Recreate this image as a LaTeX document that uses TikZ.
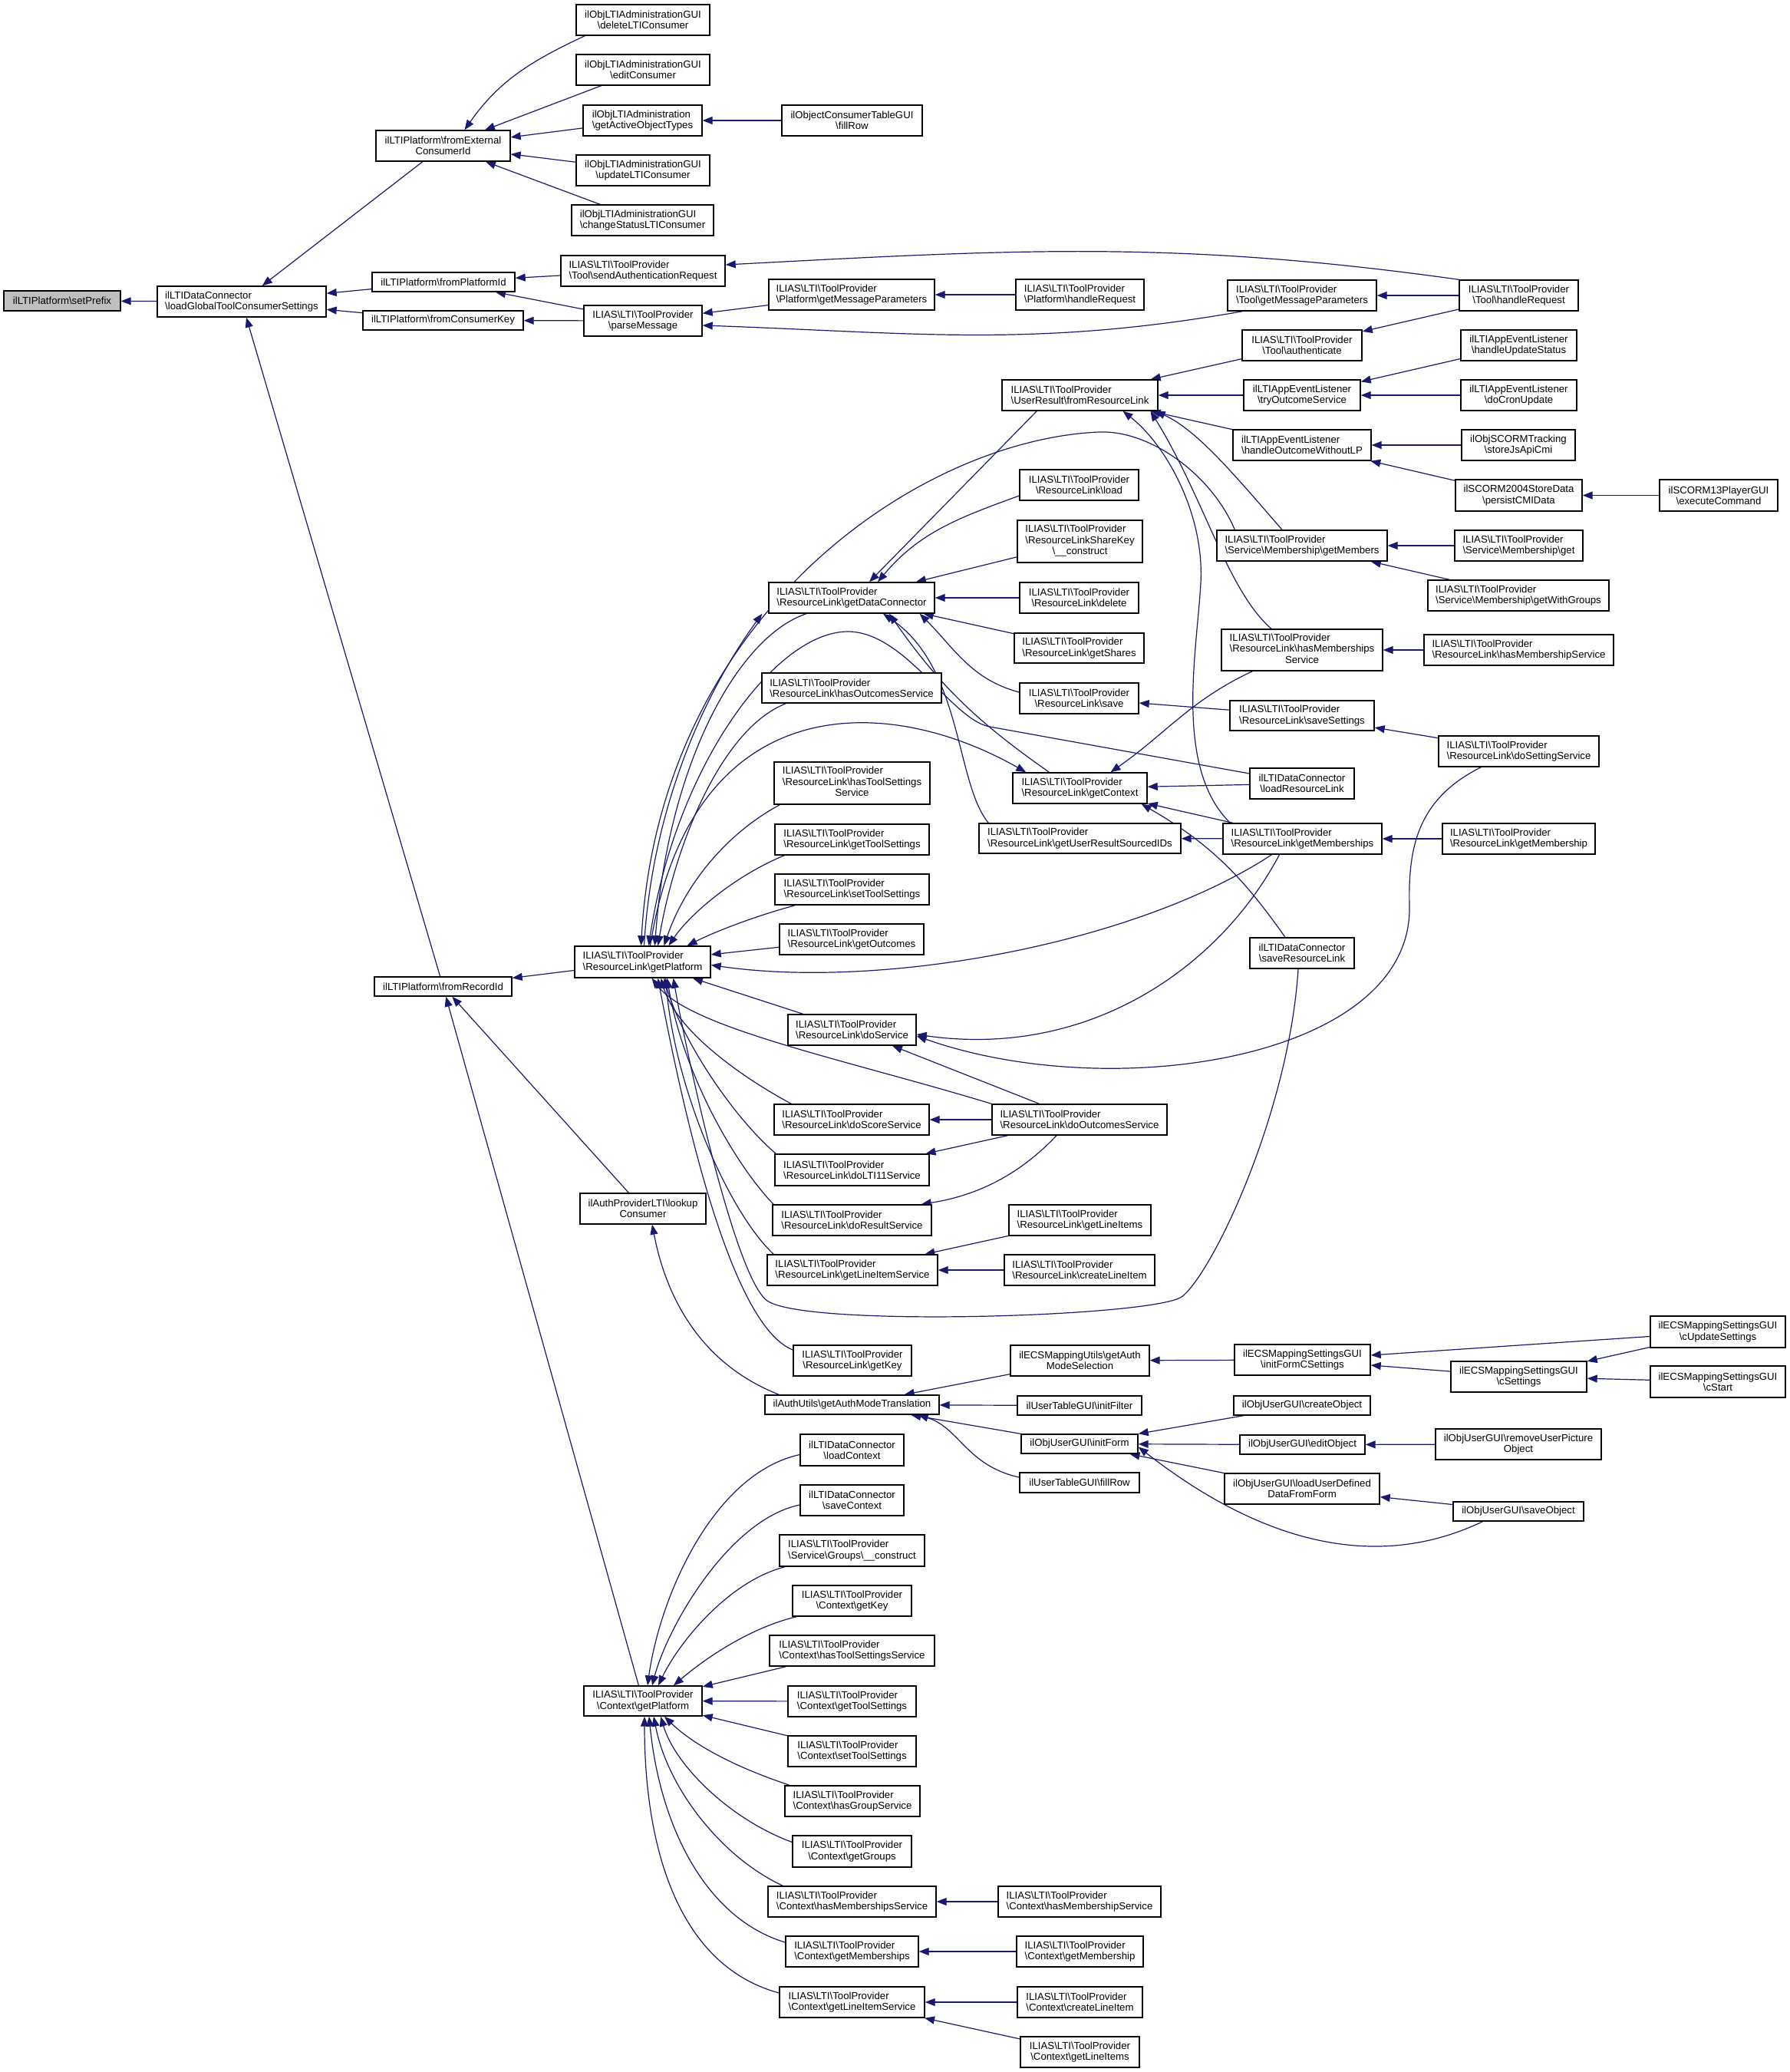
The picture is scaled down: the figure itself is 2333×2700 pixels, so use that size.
\documentclass[tikz,border=0pt]{standalone}
\usepackage{fontspec}
\setmainfont{Liberation Sans}
\usetikzlibrary{arrows.meta}
\definecolor{navyc}{RGB}{25,25,112}
\newcommand\bsl{\textbackslash}
\newcommand\TP{ILIAS\textbackslash LTI\textbackslash ToolProvider}
\newcommand\threel[3]{\begin{tabular}{@{}l@{}}#1\\#2\\\multicolumn{1}{@{}c@{}}{#3}\end{tabular}}
\newcommand{\mynode}[7]{\node[box,#6,minimum width={(#4-#2)*0.5pt},minimum height={(#5-#3)*0.5pt}] (#1) at ({(#2+#4)/2},{-(#3+#5)/2}) {#7};}
\pgfdeclarelayer{back}
\pgfdeclarelayer{bg}
\pgfsetlayers{back,bg,main}
\tikzset{
  box/.style={draw=black,line width=0.7pt,inner sep=0pt,fill=white,font=\fontsize{6.6}{7.2}\selectfont},
  edg/.style={draw=navyc,line width=0.6pt,-{Triangle[length=6.5pt,width=5pt,fill=navyc]}}
}
\begin{document}
\begin{tikzpicture}[x=0.5pt,y=0.5pt]
\begin{pgfonlayer}{back}
\fill[white] (0,0) rectangle (2333,-2700);
\end{pgfonlayer}
\useasboundingbox (0,0) rectangle (2333,-2700);
\mynode{setPrefix}{5}{379}{157}{405}{fill=gray!50}{ilLTIPlatform\bsl setPrefix}
\mynode{loadGlobal}{205}{373}{425}{413}{align=left}{ilLTIDataConnector\\\bsl loadGlobalToolConsumerSettings}
\mynode{fromExt}{490}{170}{665}{210}{align=center}{ilLTIPlatform\bsl fromExternal\\ConsumerId}
\mynode{delLTI}{751}{6}{925}{46}{align=center}{ilObjLTIAdministrationGUI\\\bsl deleteLTIConsumer}
\mynode{editC}{751}{71}{925}{111}{align=center}{ilObjLTIAdministrationGUI\\\bsl editConsumer}
\mynode{getAOT}{760}{137}{915}{177}{align=left}{ilObjLTIAdministration\\\bsl getActiveObjectTypes}
\mynode{updLTI}{751}{202}{925}{242}{align=center}{ilObjLTIAdministrationGUI\\\bsl updateLTIConsumer}
\mynode{chgLTI}{745}{267}{930}{307}{align=left}{ilObjLTIAdministrationGUI\\\bsl changeStatusLTIConsumer}
\mynode{ocFill}{1019}{137}{1202}{177}{align=center}{ilObjectConsumerTableGUI\\\bsl fillRow}
\mynode{fromPID}{485}{355}{671}{380}{}{ilLTIPlatform\bsl fromPlatformId}
\mynode{fromCK}{473}{405}{682}{430}{}{ilLTIPlatform\bsl fromConsumerKey}
\mynode{sendAuth}{731}{333}{945}{373}{align=left}{\TP\\\bsl Tool\bsl sendAuthenticationRequest}
\mynode{parseMsg}{761}{398}{915}{438}{align=center}{\TP\\\bsl parseMessage}
\mynode{pGMP}{1002}{364}{1218}{404}{align=left}{\TP\\\bsl Platform\bsl getMessageParameters}
\mynode{pHR}{1324}{364}{1491}{404}{align=left}{\TP\\\bsl Platform\bsl handleRequest}
\mynode{tGMP}{1600}{365}{1794}{405}{align=left}{\TP\\\bsl Tool\bsl getMessageParameters}
\mynode{tHR}{1902}{365}{2057}{405}{align=center}{\TP\\\bsl Tool\bsl handleRequest}
\mynode{tAuth}{1619}{430}{1775}{470}{align=center}{\TP\\\bsl Tool\bsl authenticate}
\mynode{hUS}{1904}{430}{2055}{470}{align=center}{ilLTIAppEventListener\\\bsl handleUpdateStatus}
\mynode{tOS}{1621}{495}{1773}{535}{align=center}{ilLTIAppEventListener\\\bsl tryOutcomeService}
\mynode{dCU}{1904}{495}{2055}{535}{align=center}{ilLTIAppEventListener\\\bsl doCronUpdate}
\mynode{hOWLP}{1607}{560}{1787}{600}{align=left}{ilLTIAppEventListener\\\bsl handleOutcomeWithoutLP}
\mynode{sJAC}{1905}{560}{2053}{600}{align=center}{ilObjSCORMTracking\\\bsl storeJsApiCmi}
\mynode{pCMI}{1897}{625}{2062}{666}{align=center}{ilSCORM2004StoreData\\\bsl persistCMIData}
\mynode{exC}{2163}{625}{2317}{666}{align=center}{ilSCORM13PlayerGUI\\\bsl executeCommand}
\mynode{getMem}{1586}{691}{1808}{731}{align=left}{\TP\\\bsl Service\bsl Membership\bsl getMembers}
\mynode{memGet}{1896}{691}{2063}{731}{align=left}{\TP\\\bsl Service\bsl Membership\bsl get}
\mynode{memGWG}{1861}{756}{2097}{796}{align=left}{\TP\\\bsl Service\bsl Membership\bsl getWithGroups}
\mynode{rlHMsS}{1592}{820}{1802}{874}{}{\threel{\TP}{\bsl ResourceLink\bsl hasMemberships}{Service}}
\mynode{rlHMS}{1856}{827}{2103}{867}{align=left}{\TP\\\bsl ResourceLink\bsl hasMembershipService}
\mynode{rlSS}{1603}{913}{1791}{952}{align=left}{\TP\\\bsl ResourceLink\bsl saveSettings}
\mynode{rlDSS}{1875}{959}{2084}{999}{align=left}{\TP\\\bsl ResourceLink\bsl doSettingService}
\mynode{dcLRL}{1629}{1001}{1765}{1041}{align=center}{ilLTIDataConnector\\\bsl loadResourceLink}
\mynode{rlGMs}{1594}{1073}{1801}{1113}{align=left}{\TP\\\bsl ResourceLink\bsl getMemberships}
\mynode{rlGM}{1880}{1073}{2079}{1113}{align=left}{\TP\\\bsl ResourceLink\bsl getMembership}
\mynode{dcSRL}{1629}{1222}{1765}{1262}{align=center}{ilLTIDataConnector\\\bsl saveResourceLink}
\mynode{urFRL}{1306}{495}{1509}{535}{align=left}{\TP\\\bsl UserResult\bsl fromResourceLink}
\mynode{rlLoad}{1329}{612}{1484}{652}{align=center}{\TP\\\bsl ResourceLink\bsl load}
\mynode{rlSK}{1326}{678}{1489}{733}{}{\threel{\TP}{\bsl ResourceLinkShareKey}{\bsl\_\_construct}}
\mynode{rlGDC}{1002}{759}{1218}{799}{align=left}{\TP\\\bsl ResourceLink\bsl getDataConnector}
\mynode{rlDel}{1329}{759}{1484}{799}{align=center}{\TP\\\bsl ResourceLink\bsl delete}
\mynode{rlGS}{1322}{825}{1491}{864}{align=left}{\TP\\\bsl ResourceLink\bsl getShares}
\mynode{rlHOS}{993}{877}{1227}{916}{align=left}{\TP\\\bsl ResourceLink\bsl hasOutcomesService}
\mynode{rlSave}{1329}{890}{1484}{930}{align=center}{\TP\\\bsl ResourceLink\bsl save}
\mynode{rlHTSS}{1009}{993}{1212}{1048}{}{\threel{\TP}{\bsl ResourceLink\bsl hasToolSettings}{Service}}
\mynode{rlGC}{1320}{1007}{1495}{1047}{align=left}{\TP\\\bsl ResourceLink\bsl getContext}
\mynode{rlGURS}{1276}{1073}{1539}{1112}{align=left}{\TP\\\bsl ResourceLink\bsl getUserResultSourcedIDs}
\mynode{rlGTS}{1010}{1074}{1211}{1114}{align=left}{\TP\\\bsl ResourceLink\bsl getToolSettings}
\mynode{rlSTS}{1010}{1139}{1211}{1179}{align=left}{\TP\\\bsl ResourceLink\bsl setToolSettings}
\mynode{rlGO}{1016}{1204}{1204}{1244}{align=left}{\TP\\\bsl ResourceLink\bsl getOutcomes}
\mynode{rlGP}{749}{1233}{926}{1274}{align=left}{\TP\\\bsl ResourceLink\bsl getPlatform}
\mynode{fromRID}{488}{1273}{667}{1298}{}{ilLTIPlatform\bsl fromRecordId}
\mynode{rlDS}{1027}{1322}{1194}{1362}{align=left}{\TP\\\bsl ResourceLink\bsl doService}
\mynode{rlDScS}{1009}{1439}{1211}{1479}{align=left}{\TP\\\bsl ResourceLink\bsl doScoreService}
\mynode{rlDOS}{1293}{1439}{1521}{1479}{align=left}{\TP\\\bsl ResourceLink\bsl doOutcomesService}
\mynode{rlDL11}{1010}{1504}{1211}{1545}{align=left}{\TP\\\bsl ResourceLink\bsl doLTI11Service}
\mynode{lookup}{756}{1555}{920}{1595}{align=center}{ilAuthProviderLTI\bsl lookup\\Consumer}
\mynode{rlDRS}{1007}{1570}{1214}{1610}{align=left}{\TP\\\bsl ResourceLink\bsl doResultService}
\mynode{rlGLIs}{1315}{1570}{1500}{1610}{align=left}{\TP\\\bsl ResourceLink\bsl getLineItems}
\mynode{rlGLIS}{1000}{1635}{1222}{1675}{align=left}{\TP\\\bsl ResourceLink\bsl getLineItemService}
\mynode{rlCLI}{1309}{1635}{1505}{1675}{align=left}{\TP\\\bsl ResourceLink\bsl createLineItem}
\mynode{rlKey}{1034}{1753}{1188}{1793}{align=center}{\TP\\\bsl ResourceLink\bsl getKey}
\mynode{ecsGAMS}{1317}{1753}{1498}{1793}{align=center}{ilECSMappingUtils\bsl getAuth\\ModeSelection}
\mynode{ecsIFCS}{1609}{1752}{1786}{1792}{align=center}{ilECSMappingSettingsGUI\\\bsl initFormCSettings}
\mynode{ecsCUS}{2151}{1715}{2327}{1756}{align=center}{ilECSMappingSettingsGUI\\\bsl cUpdateSettings}
\mynode{ecsCS}{1891}{1774}{2068}{1814}{align=center}{ilECSMappingSettingsGUI\\\bsl cSettings}
\mynode{ecsCSt}{2151}{1780}{2327}{1821}{align=center}{ilECSMappingSettingsGUI\\\bsl cStart}
\mynode{authGAMT}{997}{1818}{1224}{1843}{}{ilAuthUtils\bsl getAuthModeTranslation}
\mynode{utIF}{1326}{1819}{1488}{1844}{}{ilUserTableGUI\bsl initFilter}
\mynode{ouCO}{1608}{1819}{1786}{1844}{}{ilObjUserGUI\bsl createObject}
\mynode{ouIF}{1331}{1869}{1483}{1894}{}{ilObjUserGUI\bsl initForm}
\mynode{ouEO}{1616}{1870}{1779}{1895}{}{ilObjUserGUI\bsl editObject}
\mynode{ouRUPO}{1871}{1862}{2087}{1902}{align=center}{ilObjUserGUI\bsl removeUserPicture\\Object}
\mynode{utFR}{1329}{1919}{1485}{1945}{}{ilUserTableGUI\bsl fillRow}
\mynode{ouLUD}{1596}{1920}{1798}{1960}{align=center}{ilObjUserGUI\bsl loadUserDefined\\DataFromForm}
\mynode{ouSO}{1894}{1957}{2064}{1982}{}{ilObjUserGUI\bsl saveObject}
\mynode{dcLC}{1043}{1869}{1178}{1910}{align=center}{ilLTIDataConnector\\\bsl loadContext}
\mynode{dcSC}{1043}{1935}{1178}{1975}{align=center}{ilLTIDataConnector\\\bsl saveContext}
\mynode{grC}{1016}{2000}{1205}{2041}{align=left}{\TP\\\bsl Service\bsl Groups\bsl\_\_construct}
\mynode{cxKey}{1033}{2066}{1188}{2106}{align=center}{\TP\\\bsl Context\bsl getKey}
\mynode{cxHTSS}{1003}{2131}{1218}{2171}{align=left}{\TP\\\bsl Context\bsl hasToolSettingsService}
\mynode{cxGP}{761}{2197}{915}{2236}{align=center}{\TP\\\bsl Context\bsl getPlatform}
\mynode{cxGTS}{1027}{2197}{1194}{2237}{align=left}{\TP\\\bsl Context\bsl getToolSettings}
\mynode{cxSTS}{1027}{2262}{1194}{2302}{align=left}{\TP\\\bsl Context\bsl setToolSettings}
\mynode{cxHGS}{1023}{2327}{1199}{2367}{align=left}{\TP\\\bsl Context\bsl hasGroupService}
\mynode{cxGG}{1033}{2392}{1188}{2433}{align=center}{\TP\\\bsl Context\bsl getGroups}
\mynode{cxHMsS}{1001}{2458}{1220}{2498}{align=left}{\TP\\\bsl Context\bsl hasMembershipsService}
\mynode{cxHMS}{1301}{2458}{1513}{2498}{align=left}{\TP\\\bsl Context\bsl hasMembershipService}
\mynode{cxGMs}{1024}{2523}{1197}{2563}{align=left}{\TP\\\bsl Context\bsl getMemberships}
\mynode{cxGM}{1325}{2523}{1490}{2563}{align=left}{\TP\\\bsl Context\bsl getMembership}
\mynode{cxGLIS}{1016}{2589}{1205}{2629}{align=left}{\TP\\\bsl Context\bsl getLineItemService}
\mynode{cxCLI}{1326}{2589}{1489}{2629}{align=left}{\TP\\\bsl Context\bsl createLineItem}
\mynode{cxGLI}{1330}{2654}{1485}{2694}{align=center}{\TP\\\bsl Context\bsl getLineItems}

\begin{pgfonlayer}{bg}
% top part
\draw[edg] (loadGlobal) -- (setPrefix);
\draw[edg] (fromExt) -- (loadGlobal);
\draw[edg] (fromPID) -- (loadGlobal);
\draw[edg] (fromCK) -- (loadGlobal);
\draw[edg] (fromRID) -- (loadGlobal);
\draw[edg] ([xshift=6pt]delLTI.south west) to[out=205,in=55] ([xshift=14pt]fromExt.north);
\draw[edg] (editC) -- (fromExt);
\draw[edg] (getAOT) -- (fromExt);
\draw[edg] (updLTI) -- (fromExt);
\draw[edg] (chgLTI) -- (fromExt);
\draw[edg] (ocFill) -- (getAOT);
\draw[edg] (sendAuth) -- (fromPID);
\draw[edg] (parseMsg) -- (fromPID);
\draw[edg] (parseMsg) -- (fromCK);
\draw[edg] (tHR.north west) to[out=172,in=3] ([yshift=4pt]sendAuth.east);
\draw[edg] (pGMP) -- (parseMsg);
\draw[edg] ([xshift=10pt]tGMP.south west) to[out=190,in=-2] ([yshift=-3pt]parseMsg.east);
\draw[edg] (pHR) -- (pGMP);
\draw[edg] (tHR) -- (tGMP);
\draw[edg] (tHR) -- (tAuth);
\draw[edg] (tAuth) -- (urFRL);
\draw[edg] (tOS) -- (urFRL);
\draw[edg] (hUS) -- (tOS);
\draw[edg] (dCU) -- (tOS);
\draw[edg] (hOWLP) -- (urFRL);
\draw[edg] (sJAC) -- (hOWLP);
\draw[edg] (pCMI) -- (hOWLP);
\draw[edg] (exC) -- (pCMI);
\draw[edg] ([xshift=-13pt]getMem.north) .. controls (1610,-620) and (1560,-560) .. ([xshift=-2pt]urFRL.south east);
\draw[edg] (memGet) -- (getMem);
\draw[edg] (memGWG) -- (getMem);
\draw[edg] ([xshift=-20pt]rlHMsS.north) .. controls (1600,-770) and (1570,-650) .. ([xshift=46pt]urFRL.south);
\draw[edg] ([xshift=5pt]rlGMs.north west) .. controls (1530,-1000) and (1560,-850) .. (1565,-760) .. controls (1570,-670) and (1520,-580) .. ([xshift=28pt]urFRL.south);
\draw[edg] (rlHMS) -- (rlHMsS);
% getDataConnector
\draw[edg] ([xshift=23pt]urFRL.south west) -- ([xshift=11.5pt]rlGDC.north);
\draw[edg] ([yshift=-7pt]rlLoad.west) to[out=200,in=50] ([xshift=17pt]rlGDC.north);
\draw[edg] (rlSK) -- (rlGDC);
\draw[edg] (rlDel) -- (rlGDC);
\draw[edg] (rlGS) -- (rlGDC);
\draw[edg] ([yshift=4pt]rlSave.west) to[out=165,in=-45] ([xshift=-10pt]rlGDC.south east);
\draw[edg] (rlSS) -- (rlSave);
\draw[edg] (rlDSS) -- (rlSS);
\draw[edg] ([xshift=-20pt]rlGC.north) to[out=145,in=-55] ([xshift=24.5pt]rlGDC.south);
\draw[edg] ([xshift=6.5pt]rlGURS.north west) .. controls (1245,-1020) and (1255,-870) .. ([xshift=20.5pt]rlGDC.south);
% getContext
\draw[edg] (dcLRL) -- (rlGC);
\draw[edg] (rlGMs) -- (rlGC);
\draw[edg] ([xshift=-11pt]dcSRL.north) to[out=125,in=-30] ([xshift=-4pt]rlGC.south east);
\draw[edg] ([xshift=20.5pt]rlHMsS.south west) to[out=205,in=35] ([xshift=20pt]rlGC.north);
\draw[edg] ([xshift=5pt]rlGP.north) .. controls (900,-900) and (1150,-900) .. ([xshift=9pt]rlGC.north west);
\draw[edg] (rlGMs) -- (rlGURS);
\draw[edg] (rlGM) -- (rlGMs);
% getPlatform (ResourceLink)
\draw[edg] ([xshift=-29.5pt]rlGDC.south) .. controls (960,-830) and (870,-1000) .. ([xshift=8pt]rlGP.north);
\draw[edg] ([xshift=1pt]rlGP.north) .. controls (850,-1050) and (920,-900) .. ([xshift=-4pt]rlGDC.south west);
\draw[edg] ([xshift=16pt]rlHOS.south west) .. controls (940,-950) and (880,-1100) .. ([xshift=10pt]rlGP.north);
\draw[edg] ([xshift=4pt]rlHTSS.south west) .. controls (940,-1090) and (890,-1160) .. ([xshift=14pt]rlGP.north);
\draw[edg] ([xshift=6.5pt]rlGTS.south west) .. controls (960,-1140) and (900,-1190) .. ([xshift=17pt]rlGP.north);
\draw[edg] ([xshift=13.5pt]rlSTS.south west) .. controls (980,-1195) and (930,-1215) .. ([xshift=29pt]rlGP.north);
\draw[edg] (rlGO) -- (rlGP);
\draw[edg] ([xshift=-20pt]rlGMs.south) .. controls (1480,-1230) and (1150,-1290) .. ([yshift=-2pt]rlGP.east);
\draw[edg] ([xshift=12pt]getMem.north west) .. controls (1580,-620) and (1500,-560) .. (1432,-563) .. controls (1200,-573) and (860,-800) .. ([xshift=-1pt]rlGP.north);
\draw[edg] ([yshift=6.5pt]dcLRL.west) -- (1290,-947) .. controls (1240,-938) and (1180,-823) .. (1105,-823) .. controls (1010,-823) and (880,-1000) .. ([xshift=4pt]rlGP.north);
\draw[edg] (rlDS) -- (rlGP);
\draw[edg] (rlDOS.north west) .. controls (1100,-1380) and (900,-1340) .. ([xshift=6pt]rlGP.south);
\draw[edg] (rlDOS) -- (rlDS);
\draw[edg] (rlDOS) -- (rlDScS);
\draw[edg] (rlDOS) -- (rlDL11);
\draw[edg] ([xshift=-15pt]rlDOS.south) .. controls (1320,-1540) and (1260,-1560) .. ([xshift=-7pt]rlDRS.north east);
\draw[edg] ([xshift=-20pt]rlGMs.south) ++(10,0) .. controls (1590,-1260) and (1420,-1380) .. ([yshift=-3pt]rlDS.east);
\draw[edg] ([xshift=28pt]rlDSS.south west) .. controls (1850,-1040) and (1835,-1100) .. (1837,-1180) .. controls (1842,-1380) and (1450,-1440) .. ([yshift=-4pt]rlDS.east);
\draw[edg] ([xshift=11.5pt]rlDScS.north west) .. controls (960,-1400) and (880,-1340) .. ([xshift=12pt]rlGP.south);
\draw[edg] ([xshift=1pt]rlDL11.north west) .. controls (960,-1460) and (890,-1360) .. ([xshift=14pt]rlGP.south);
\draw[edg] ([xshift=1pt]rlDRS.north west) .. controls (960,-1520) and (890,-1400) .. ([xshift=16pt]rlGP.south);
\draw[edg] ([xshift=4.5pt]rlGLIS.north west) .. controls (950,-1580) and (880,-1420) .. ([xshift=15pt]rlGP.south);
\draw[edg] ([yshift=7pt]rlKey.west) .. controls (960,-1730) and (900,-1500) .. ([xshift=10pt]rlGP.south);
\draw[edg] ([xshift=-2.5pt]dcSRL.south) .. controls (1680,-1450) and (1580,-1660) .. (1540,-1690) .. controls (1500,-1716) and (1050,-1730) .. (1000,-1695) .. controls (960,-1667) and (900,-1400) .. ([xshift=20pt]rlGP.south);
\draw[edg] (rlGLIs) -- (rlGLIS);
\draw[edg] (rlCLI) -- (rlGLIS);
\draw[edg] (rlGP) -- (fromRID);
\draw[edg] (lookup) -- (fromRID);
\draw[edg] (cxGP) -- (fromRID);
% auth part
\draw[edg] ([xshift=9.5pt]authGAMT.north west) .. controls (920,-1780) and (870,-1700) .. ([xshift=6pt]lookup.south);
\draw[edg] (ecsGAMS) -- (authGAMT);
\draw[edg] (ecsIFCS) -- (ecsGAMS);
\draw[edg] (ecsCUS) -- (ecsIFCS);
\draw[edg] (ecsCS) -- (ecsIFCS);
\draw[edg] (ecsCUS) -- (ecsCS);
\draw[edg] (ecsCSt) -- (ecsCS);
\draw[edg] (utIF) -- (authGAMT);
\draw[edg] (ouIF) -- (authGAMT);
\draw[edg] ([yshift=3.5pt]utFR.west) .. controls (1260,-1910) and (1250,-1860) .. ([xshift=-14pt]authGAMT.south east);
\draw[edg] (ouCO) -- (ouIF);
\draw[edg] (ouEO) -- (ouIF);
\draw[edg] (ouLUD) -- (ouIF);
\draw[edg] (ouRUPO) -- (ouEO);
\draw[edg] (ouSO) -- (ouLUD);
\draw[edg] ([xshift=19.5pt]ouSO.south west) .. controls (1750,-2070) and (1580,-1960) .. ([yshift=-2pt]ouIF.east);
% Context
\draw[edg] ([yshift=-3pt]dcLC.west) .. controls (930,-1920) and (860,-2080) .. ([xshift=3pt]cxGP.north);
\draw[edg] ([yshift=-3pt]dcSC.west) .. controls (950,-1980) and (870,-2120) .. ([xshift=6pt]cxGP.north);
\draw[edg] ([xshift=4pt]grC.south west) .. controls (950,-2060) and (885,-2140) .. ([xshift=10pt]cxGP.north);
\draw[edg] ([xshift=3pt]cxKey.south west) .. controls (980,-2120) and (920,-2160) .. ([xshift=20pt]cxGP.north);
\draw[edg] (cxHTSS) -- (cxGP);
\draw[edg] (cxGTS) -- (cxGP);
\draw[edg] (cxSTS) -- (cxGP);
\draw[edg] ([xshift=3.5pt]cxHGS.north west) .. controls (950,-2300) and (900,-2270) .. ([xshift=14pt]cxGP.south);
\draw[edg] ([yshift=6pt]cxGG.west) .. controls (950,-2370) and (880,-2300) .. ([xshift=11.5pt]cxGP.south);
\draw[edg] ([xshift=10pt]cxHMsS.north west) .. controls (940,-2420) and (870,-2330) .. ([xshift=7pt]cxGP.south);
\draw[edg] ([yshift=6pt]cxGMs.west) .. controls (920,-2500) and (860,-2380) .. ([xshift=4pt]cxGP.south);
\draw[edg] ([yshift=6pt]cxGLIS.west) .. controls (880,-2560) and (840,-2400) .. ([xshift=1pt]cxGP.south);
\draw[edg] (cxHMS) -- (cxHMsS);
\draw[edg] (cxGM) -- (cxGMs);
\draw[edg] (cxCLI) -- (cxGLIS);
\draw[edg] (cxGLI) -- (cxGLIS);
\end{pgfonlayer}
\end{tikzpicture}
\end{document}
